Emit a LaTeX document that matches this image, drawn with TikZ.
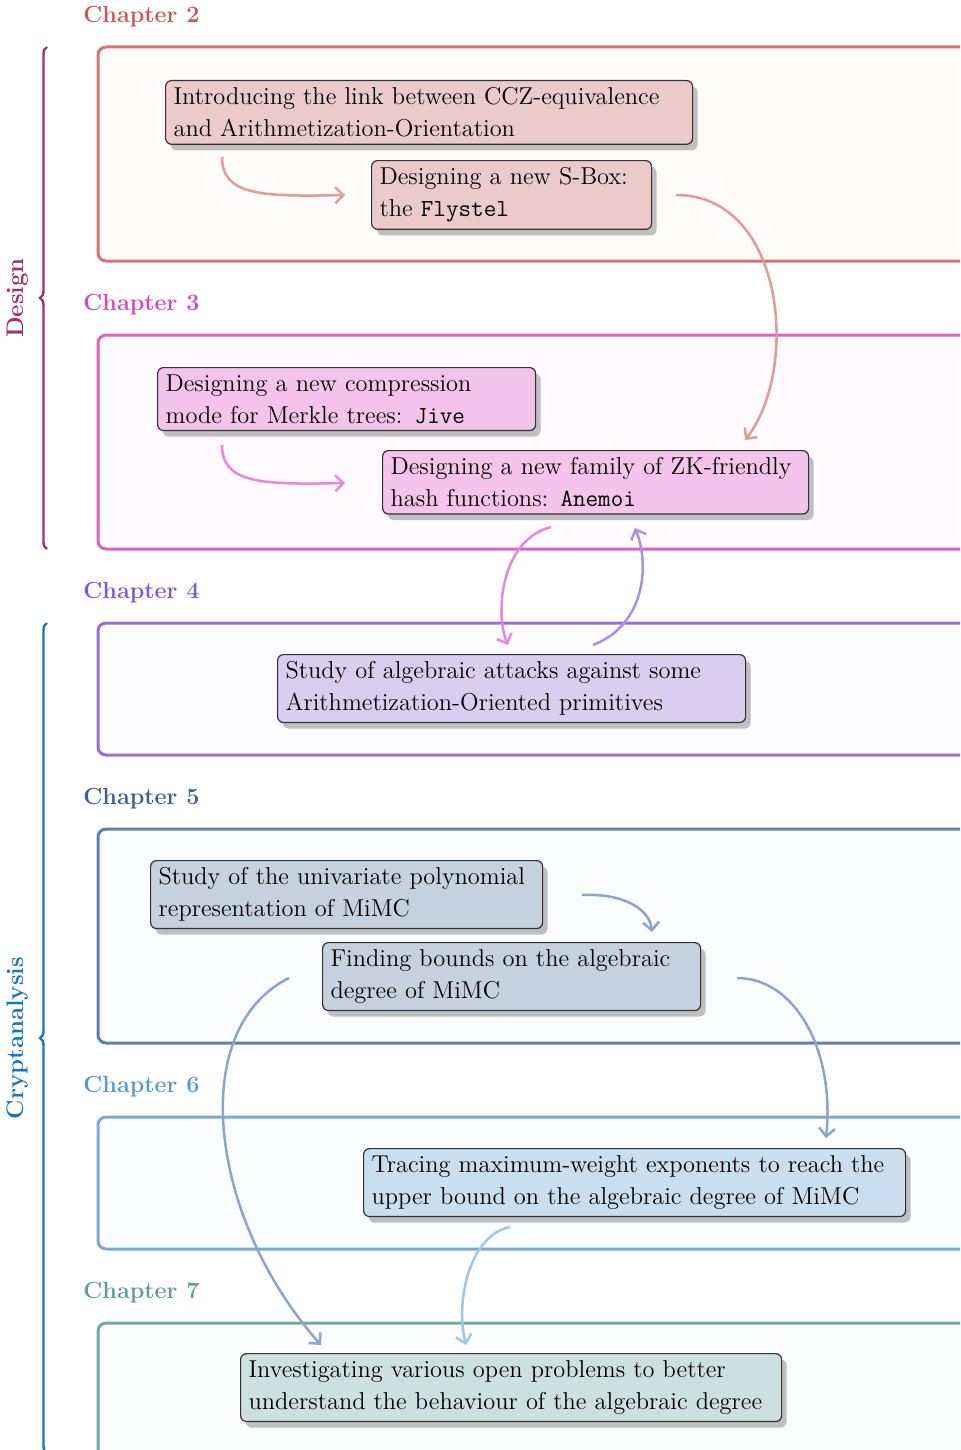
\documentclass[tikz,border=0pt]{standalone}
\usepackage{xcolor}
\usepackage{tikz}
\usetikzlibrary{shapes,arrows.meta,positioning,calc,shadows,decorations.pathreplacing}

\definecolor{frtwo}{HTML}{D87373}
\definecolor{frthree}{HTML}{E060C0}
\definecolor{frfour}{HTML}{9370DB}
\definecolor{frfive}{HTML}{5F7FAF}
\definecolor{frsix}{HTML}{7AAAD2}
\definecolor{frseven}{HTML}{70AAA5}
\definecolor{lbtwo}{HTML}{D05555}
\definecolor{lbthree}{HTML}{D848B8}
\definecolor{lbfour}{HTML}{7E5AD6}
\definecolor{lbfive}{HTML}{3F5F8F}
\definecolor{lbsix}{HTML}{5A9ACA}
\definecolor{lbseven}{HTML}{5F9E98}
\definecolor{bxtwo}{HTML}{EDCACA}
\definecolor{bxthree}{HTML}{F5C4EA}
\definecolor{bxfour}{HTML}{D9CDF2}
\definecolor{bxfive}{HTML}{C4D1DF}
\definecolor{bxsix}{HTML}{CADEEE}
\definecolor{bxseven}{HTML}{CBE0DF}
\definecolor{artwo}{HTML}{E29A9A}
\definecolor{arthree}{HTML}{EA88D8}
\definecolor{arfour}{HTML}{A890E4}
\definecolor{arfive}{HTML}{8DA5C8}
\definecolor{arsix}{HTML}{9EC6E6}
\definecolor{designc}{HTML}{A0306E}
\definecolor{cryptoc}{HTML}{1A75C0}

\tikzset{
  chapframe/.style={line width=1.5pt, rounded corners=4pt, draw=#1, fill=#1!3},
  chap/.style={anchor=west, inner sep=0pt, text=#1, font=\fontsize{11.7}{14}\selectfont\bfseries},
  idea/.style={draw=black!80, line width=0.6pt, rounded corners=3pt, fill=#1,
    anchor=north west, align=left, inner xsep=4pt, inner ysep=3.5pt,
    font=\fontsize{12.2}{16}\selectfont,
    drop shadow={shadow xshift=2.5pt, shadow yshift=-3pt, fill=black!25, opacity=1}},
  link/.style={draw=#1, line width=1.25pt, -{Straight Barb[length=4pt,width=8pt]}},
  part/.style={decorate, decoration={brace, amplitude=3.5pt}, line width=1.2pt, draw=#1},
}

\begin{document}
\begin{tikzpicture}[x=0.5pt, y=-0.5pt]
  \clip (0,0) rectangle (960,1450);

  % chapters
  \draw[chapframe=frtwo] (98,47) rectangle (1010,261);
  \draw[chapframe=frthree] (98,335) rectangle (1010,549);
  \draw[chapframe=frfour] (98,623) rectangle (1010,755);
  \draw[chapframe=frfive] (98,829) rectangle (1010,1043);
  \draw[chapframe=frsix] (98,1117) rectangle (1010,1249);
  \draw[chapframe=frseven] (98,1323) rectangle (1010,1500);

  \node[chap=lbtwo] (ctwo) at (83,17) {Chapter 2};
  \node[chap=lbthree] (cthree) at (83,305) {Chapter 3};
  \node[chap=lbfour] (cfour) at (83,593) {Chapter 4};
  \node[chap=lbfive] (cfive) at (83,799) {Chapter 5};
  \node[chap=lbsix] (csix) at (83,1087) {Chapter 6};
  \node[chap=lbseven] (cseven) at (83,1293) {Chapter 7};

  % parts
  \draw[part=designc] (47,549) -- (47,47);
  \draw[part=cryptoc] (47,1453) -- (47,623);
  \node[rotate=90, text=designc, font=\fontsize{12}{14}\selectfont\bfseries] (design) at (18,298) {Design};
  \node[rotate=90, text=cryptoc, font=\fontsize{12}{14}\selectfont\bfseries] (crypto) at (18,1038) {Cryptanalysis};

  % contributions
  \node[idea=bxtwo, text width=255.5pt] (ccz) at (165,80)
    {Introducing the link between CCZ-equivalence\\and Arithmetization-Orientation};
  \node[idea=bxtwo, text width=132pt] (flystel) at (371,160)
    {Designing a new S-Box:\\the \texttt{Flystel}};
  \node[idea=bxthree, text width=181pt] (jive) at (157,367)
    {Designing a new compression\\mode for Merkle trees: \texttt{Jive}};
  \node[idea=bxthree, text width=205pt] (anemoi) at (382,450)
    {\mbox{Designing a new family of ZK-friendly}\\hash functions: \texttt{Anemoi}};
  \node[idea=bxfour, text width=226pt] (attacks) at (277,654)
    {Study of algebraic attacks against some\\Arithmetization-Oriented primitives};
  \node[idea=bxfive, text width=188pt] (univ) at (150,860)
    {Study of the univariate polynomial\\representation of MiMC};
  \node[idea=bxfive, text width=181pt] (bounds) at (322,942)
    {Finding bounds on the algebraic\\degree of MiMC};
  \node[idea=bxsix, text width=263pt] (tracing) at (363,1148)
    {Tracing maximum-weight exponents to reach the\\upper bound on the algebraic degree of MiMC};
  \node[idea=bxseven, text width=262.5pt] (open) at (240,1353)
    {Investigating various open problems to better\\understand the behaviour of the algebraic degree};

  % connectors
  \coordinate (ccz-out) at (222,157);
  \coordinate (flystel-in) at (345,195);
  \coordinate (flystel-out) at (676,195);
  \coordinate (anemoi-in) at (745,440);
  \coordinate (jive-out) at (222,445);
  \coordinate (anemoi-in2) at (345,483);
  \coordinate (anemoi-out) at (551,527);
  \coordinate (attacks-in) at (508,645);
  \coordinate (attacks-out) at (593,645);
  \coordinate (anemoi-back) at (635,528);
  \coordinate (univ-out) at (582,895);
  \coordinate (bounds-in) at (652,932);
  \coordinate (bounds-out) at (289,978);
  \coordinate (open-in) at (321,1345);
  \coordinate (bounds-out2) at (737,978);
  \coordinate (tracing-in) at (826,1138);
  \coordinate (tracing-out) at (510,1227);
  \coordinate (open-in2) at (466,1345);

  \draw[link=artwo] (ccz-out) .. controls (222,195) and (260,197) .. (flystel-in);
  \draw[link=artwo] (flystel-out) .. controls (785,195) and (800,370) .. (anemoi-in);
  \draw[link=arthree] (jive-out) .. controls (222,483) and (260,485) .. (anemoi-in2);
  \draw[link=arthree] (anemoi-out) .. controls (500,540) and (495,615) .. (attacks-in);
  \draw[link=arfour] (attacks-out) .. controls (645,625) and (650,565) .. (anemoi-back);
  \draw[link=arfive] (univ-out) .. controls (625,893) and (650,910) .. (bounds-in);
  \draw[link=arfive] (bounds-out) .. controls (185,1030) and (210,1220) .. (open-in);
  \draw[link=arfive] (bounds-out2) .. controls (795,978) and (835,1050) .. (tracing-in);
  \draw[link=arsix] (tracing-out) .. controls (470,1235) and (455,1300) .. (open-in2);
\end{tikzpicture}
\end{document}
